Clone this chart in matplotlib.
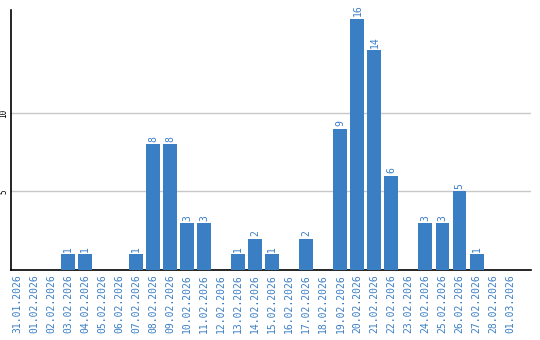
import numpy as np
import matplotlib
matplotlib.use('Agg')
import matplotlib.pyplot as plt

dates = ['31.01.2026', '01.02.2026', '02.02.2026', '03.02.2026', '04.02.2026',
         '05.02.2026', '06.02.2026', '07.02.2026', '08.02.2026', '09.02.2026',
         '10.02.2026', '11.02.2026', '12.02.2026', '13.02.2026', '14.02.2026',
         '15.02.2026', '16.02.2026', '17.02.2026', '18.02.2026', '19.02.2026',
         '20.02.2026', '21.02.2026', '22.02.2026', '23.02.2026', '24.02.2026',
         '25.02.2026', '26.02.2026', '27.02.2026', '28.02.2026', '01.03.2026']
counts = [0, 0, 0, 1, 1, 0, 0, 1, 8, 8, 3, 3, 0, 1, 2, 1, 0, 2, 0, 9,
          16, 14, 6, 0, 3, 3, 5, 1, 0, 0]

blu = '#3a7ec4'

fig = plt.figure(figsize=(5.4, 3.4), dpi=100)
ax = fig.add_axes([11/540, 1-270/340, 520/540, 260/340])

x = np.arange(len(dates))
ax.bar(x, counts, width=0.82, color=blu, zorder=3)

# etichette sopra le barre
for xi, c in zip(x, counts):
    if c > 0:
        ax.text(xi, c + 0.15, str(c), rotation=90, ha='center', va='bottom',
                color=blu, fontsize=7, family='DejaVu Sans Mono')

ax.set_xlim(-0.35, 30.2)
ax.set_ylim(0, 16.55)
ax.set_xticks(x)
ax.set_xticklabels(dates, rotation=90, color=blu, fontsize=7, family='DejaVu Sans Mono')
ax.set_yticks([5, 10])
ax.set_yticklabels(['5', '10'], rotation=90, fontsize=5.5, va='center', family='DejaVu Sans Mono')
ax.tick_params(length=0, pad=3)
ax.tick_params(axis='y', pad=2)
ax.grid(axis='y', color='#c8c8c8', linewidth=1, zorder=0)
for s in ['top', 'right']:
    ax.spines[s].set_visible(False)
ax.spines['left'].set_linewidth(1.2)
ax.spines['bottom'].set_linewidth(1.2)

fig.savefig('out.png', dpi=100)
